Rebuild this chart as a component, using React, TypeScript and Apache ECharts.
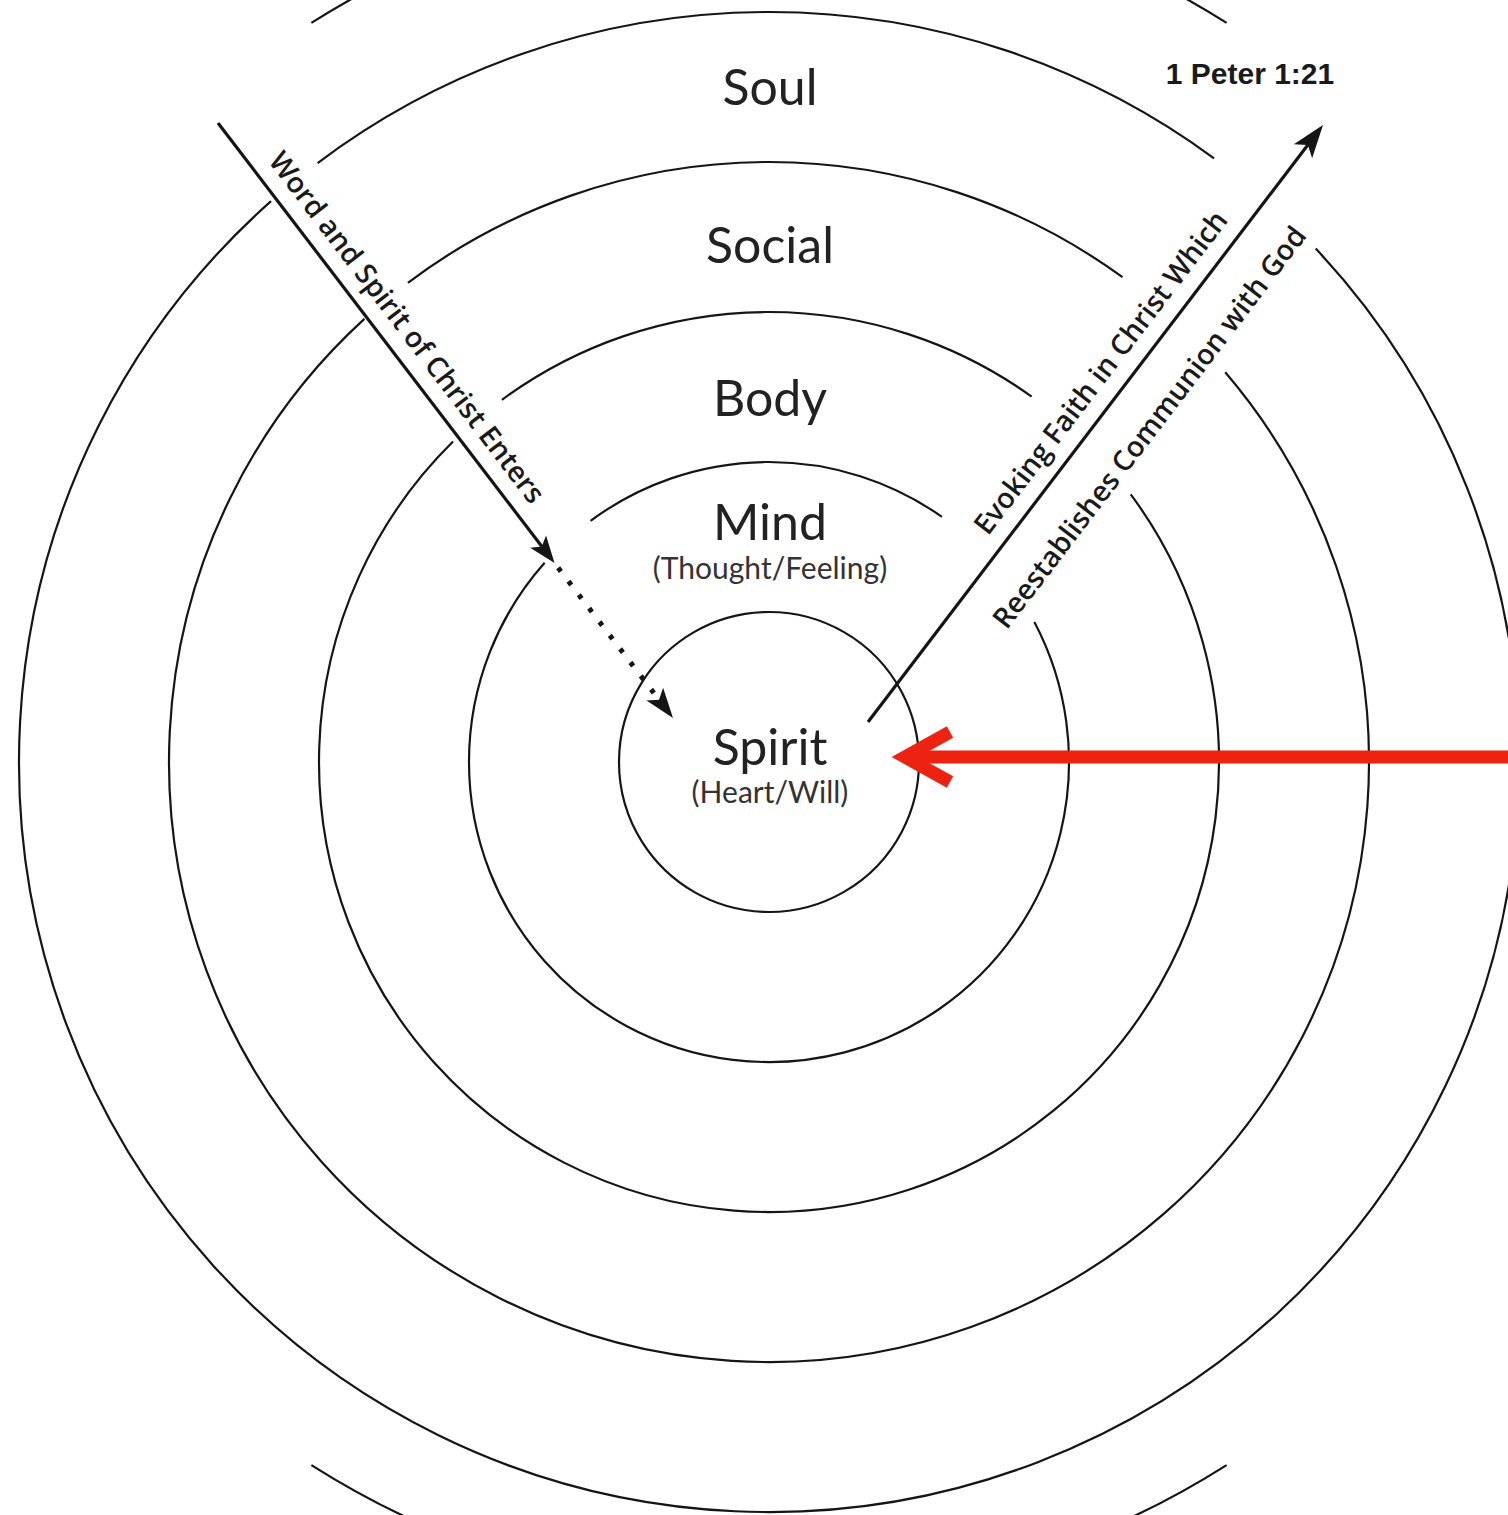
import React, { useEffect, useRef } from "react";
import * as echarts from "echarts";

// ---- content ----
const ringLabels = ["Spirit", "Mind", "Body", "Social", "Soul"];
const ringSubLabels = ["(Heart/Will)", "(Thought/Feeling)", "", "", ""];
const arrowLabels = [
  "Word and Spirit of Christ Enters",
  "Evoking Faith in Christ Which",
  "Reestablishes Communion with God",
];
const verseLabel = "1 Peter 1:21";

// ---- layout ----
const W = 1508;
const H = 1515;
const CX = 769;
const CY = 762;
const STEP = 150;
// visible spans of each ring, degrees counter-clockwise from east
const RING_ARCS: number[][][] = [
  [[0, 360]],
  [[54.8, 126.5], [138.4, 387.8]],
  [[54.3, 126.4], [134.6, 396.5]],
  [[53.9, 127.0], [132.4, 400.5]],
  [[53.6, 127.0], [131.6, 403.2]],
];
const OUTER = { cx: 769, cy: 744, r: 854 };
const OUTER_ARCS = [[57.6, 75], [105, 122.4], [237.6, 255], [285, 302.4]];
const LABEL_Y = [746, 521, 397, 244, 86];
const SUB_Y = [791, 567];

const LEFT_A = [218, 123];
const LEFT_B = [673, 718];
const RIGHT_A = [868, 722];
const RIGHT_B = [1323, 125];

const INK = "#151515";
const RED = "#EE2211";
const deg = Math.PI / 180;

function arcEl(cx: number, cy: number, r: number, a1: number, a2: number) {
  return {
    type: "arc",
    silent: true,
    shape: { cx, cy, r, startAngle: -a2 * deg, endAngle: -a1 * deg, clockwise: true },
    style: { stroke: INK, lineWidth: 2.2, fill: "none" },
  };
}

function unit(a: number[], b: number[]) {
  const dx = b[0] - a[0];
  const dy = b[1] - a[1];
  const l = Math.hypot(dx, dy);
  return [dx / l, dy / l, l];
}

function head(tip: number[], u: number[], len: number, half: number, notch: number) {
  const n = [-u[1], u[0]];
  const bx = tip[0] - u[0] * len;
  const by = tip[1] - u[1] * len;
  return {
    type: "polygon",
    silent: true,
    shape: {
      points: [
        [tip[0], tip[1]],
        [bx + n[0] * half, by + n[1] * half],
        [tip[0] - u[0] * (len - notch), tip[1] - u[1] * (len - notch)],
        [bx - n[0] * half, by - n[1] * half],
      ],
    },
    style: { fill: INK },
  };
}

function buildElements() {
  const els: any[] = [];
  RING_ARCS.forEach((spans, i) => {
    const r = STEP * (i + 1);
    spans.forEach(([a1, a2]) => els.push(arcEl(CX, CY, r, a1, a2)));
  });
  OUTER_ARCS.forEach(([a1, a2]) => els.push(arcEl(OUTER.cx, OUTER.cy, OUTER.r, a1, a2)));

  // left arrow (solid then dotted)
  const [lux, luy, llen] = unit(LEFT_A, LEFT_B);
  const lu = [lux, luy];
  const solidEnd = 554;
  const pAt = (a: number[], u: number[], t: number) => [a[0] + u[0] * t, a[1] + u[1] * t];
  const s1 = pAt(LEFT_A, lu, solidEnd - 18);
  els.push({
    type: "line",
    silent: true,
    shape: { x1: LEFT_A[0], y1: LEFT_A[1], x2: s1[0], y2: s1[1] },
    style: { stroke: INK, lineWidth: 3.2 },
  });
  els.push(head(pAt(LEFT_A, lu, solidEnd), lu, 27, 10, 6));
  const d0 = pAt(LEFT_A, lu, solidEnd + 6);
  const d1 = pAt(LEFT_A, lu, llen - 22);
  els.push({
    type: "line",
    silent: true,
    shape: { x1: d0[0], y1: d0[1], x2: d1[0], y2: d1[1] },
    style: { stroke: INK, lineWidth: 5, lineDash: [4.5, 12.5] },
  });
  els.push(head(LEFT_B, lu, 30, 10.5, 7));

  // right arrow
  const [rux, ruy, rlen] = unit(RIGHT_A, RIGHT_B);
  const ru = [rux, ruy];
  const r1 = pAt(RIGHT_A, ru, rlen - 22);
  els.push({
    type: "line",
    silent: true,
    shape: { x1: RIGHT_A[0], y1: RIGHT_A[1], x2: r1[0], y2: r1[1] },
    style: { stroke: INK, lineWidth: 3.2 },
  });
  els.push(head(RIGHT_B, ru, 33, 11.5, 8));

  // red arrow
  els.push({
    type: "line",
    silent: true,
    shape: { x1: 905, y1: 757, x2: W + 10, y2: 757 },
    style: { stroke: RED, lineWidth: 13 },
  });
  els.push({
    type: "polyline",
    silent: true,
    shape: { points: [[950, 732], [905, 757], [950, 782]] },
    style: { stroke: RED, lineWidth: 13, lineJoin: "miter", miterLimit: 10, fill: "none" },
  });

  // ring labels
  ringLabels.forEach((t, i) => {
    els.push({
      type: "text",
      silent: true,
      x: CX + 1,
      y: LABEL_Y[i],
      style: {
        text: t,
        fontSize: 50,
        fontFamily: "Lato",
        fill: "#222",
        align: "center",
        verticalAlign: "middle",
      },
    });
  });
  ringSubLabels.forEach((t, i) => {
    if (!t) return;
    els.push({
      type: "text",
      silent: true,
      x: CX + 1,
      y: SUB_Y[i],
      style: {
        text: t,
        fontSize: 30,
        fontFamily: "Lato",
        fill: "#333",
        align: "center",
        verticalAlign: "middle",
      },
    });
  });

  // arrow texts
  const lrot = -Math.atan2(luy, lux);
  const rrot = -Math.atan2(ruy, rux);
  const ln = [-luy, lux]; // lower-left normal
  const rn = [-ruy, rux]; // lower-right normal
  const place = (a: number[], u: number[], n: number[], along: number, off: number) => [
    a[0] + u[0] * along + n[0] * off,
    a[1] + u[1] * along + n[1] * off,
  ];
  const textSpecs = [
    { p: place(LEFT_A, lu, ln, 277, -27), rot: lrot },
    { p: place(RIGHT_A, ru, rn, 419, -28), rot: rrot },
    { p: place(RIGHT_A, ru, rn, 405, 44), rot: rrot },
  ];
  arrowLabels.forEach((t, i) => {
    const s = textSpecs[i];
    els.push({
      type: "text",
      silent: true,
      x: s.p[0],
      y: s.p[1],
      rotation: s.rot,
      style: {
        text: t,
        fontSize: 28.5,
        fontWeight: 600,
        fontFamily: "Open Sans",
        fill: "#1a1a1a",
        align: "center",
        verticalAlign: "middle",
      },
    });
  });

  els.push({
    type: "text",
    silent: true,
    x: 1250,
    y: 73,
    style: {
      text: verseLabel,
      fontSize: 30,
      fontWeight: "bold",
      fontFamily: "Liberation Sans",
      fill: "#1a1a1a",
      align: "center",
      verticalAlign: "middle",
    },
  });
  return els;
}

export default function App() {
  const ref = useRef<HTMLDivElement>(null);
  useEffect(() => {
    if (!ref.current) return;
    const chart = echarts.init(ref.current, null, { renderer: "svg", width: W, height: H });
    chart.setOption({
      animation: false,
      backgroundColor: "#ffffff",
      graphic: { elements: buildElements() },
    });
    return () => chart.dispose();
  }, []);
  return (
    <div
      ref={ref}
      style={{ position: "fixed", left: 0, top: 0, width: W, height: H, background: "#fff" }}
    />
  );
}
